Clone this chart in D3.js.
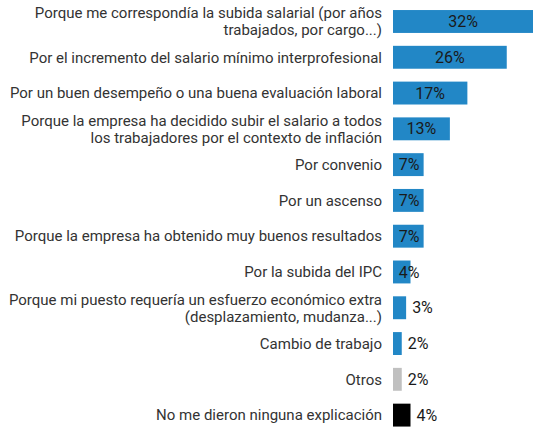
<!DOCTYPE html>
<html>
<head>
<meta charset="utf-8">
<script src="https://cdn.jsdelivr.net/npm/d3@7"></script>
<style>
  body { margin: 0; background: #fff; }
  text { font-family: Roboto, "Noto Sans", sans-serif; }
</style>
</head>
<body>
<div id="chart-area"></div>
<script>
// categories (line breaks as in the original)
var categories = [
    "Porque me correspondía la subida salarial (por años\ntrabajados, por cargo...)",
    "Por el incremento del salario mínimo interprofesional",
    "Por un buen desempeño o una buena evaluación laboral",
    "Porque la empresa ha decidido subir el salario a todos\nlos trabajadores por el contexto de inflación",
    "Por convenio",
    "Por un ascenso",
    "Porque la empresa ha obtenido muy buenos resultados",
    "Por la subida del IPC",
    "Porque mi puesto requería un esfuerzo económico extra\n(desplazamiento, mudanza...)",
    "Cambio de trabajo",
    "Otros",
    "No me dieron ninguna explicación"
];
var values = [32, 26, 17, 13, 7, 7, 7, 4, 3, 2, 2, 4];
var groups = ["reason", "reason", "reason", "reason", "reason", "reason", "reason", "reason", "reason", "reason", "other", "none"];

var data = categories.map((c, i) => {
    return {name: c, value: values[i], group: groups[i]};
});

var width = 534, height = 428;
var svg = d3.select("#chart-area").append("svg")
    .attr("width", width)
    .attr("height", height);

var x = d3.scaleLinear()
    .domain([0, 32])
    .range([393, 533]);

var y = d3.scaleBand()
    .domain(categories)
    .range([3.6, 433])
    .paddingInner(0.36)
    .paddingOuter(0.18);

var colour = d3.scaleOrdinal()
    .domain(["reason", "other", "none"])
    .range(["#2287c6", "#c0c0c0", "#000000"]);

svg.selectAll("rect")
    .data(data)
    .enter()
    .append("rect")
        .attr("x", x(0))
        .attr("y", (d) => { return y(d.name); })
        .attr("width", (d) => { return x(d.value) - x(0); })
        .attr("height", y.bandwidth())
        .attr("fill", (d) => { return colour(d.group); });

// category labels, right aligned before the bars
var labels = svg.selectAll("text.cat")
    .data(data)
    .enter()
    .append("text")
        .attr("class", "cat")
        .attr("text-anchor", "end")
        .attr("fill", "#333")
        .style("font-size", "15px");

labels.each(function(d) {
    var lines = d.name.split("\n");
    var cy = y(d.name) + y.bandwidth() / 2;
    var lh = 17;
    var top = cy - (lines.length - 1) * lh / 2;
    d3.select(this).selectAll("tspan")
        .data(lines)
        .enter()
        .append("tspan")
            .attr("x", 382)
            .attr("y", (l, i) => { return top + i * lh; })
            .attr("dy", "0.35em")
            .text((l) => { return l; });
});

// value labels
svg.selectAll("text.val")
    .data(data)
    .enter()
    .append("text")
        .attr("class", "val")
        .attr("fill", "#1a1a1a")
        .style("font-size", "16px")
        .attr("dy", "0.35em")
        .attr("y", (d) => { return y(d.name) + y.bandwidth() / 2; })
        .attr("text-anchor", (d) => {
            return (d.group == "reason" && d.value >= 4) ? "middle" : "start";
        })
        .attr("x", (d) => {
            if (d.group == "reason" && d.value >= 4) {
                return Math.max((x(0) + x(d.value)) / 2, x(0) + 16);
            }
            return x(d.value) + 6;
        })
        .text((d) => { return d.value + "%"; });
</script>
</body>
</html>
